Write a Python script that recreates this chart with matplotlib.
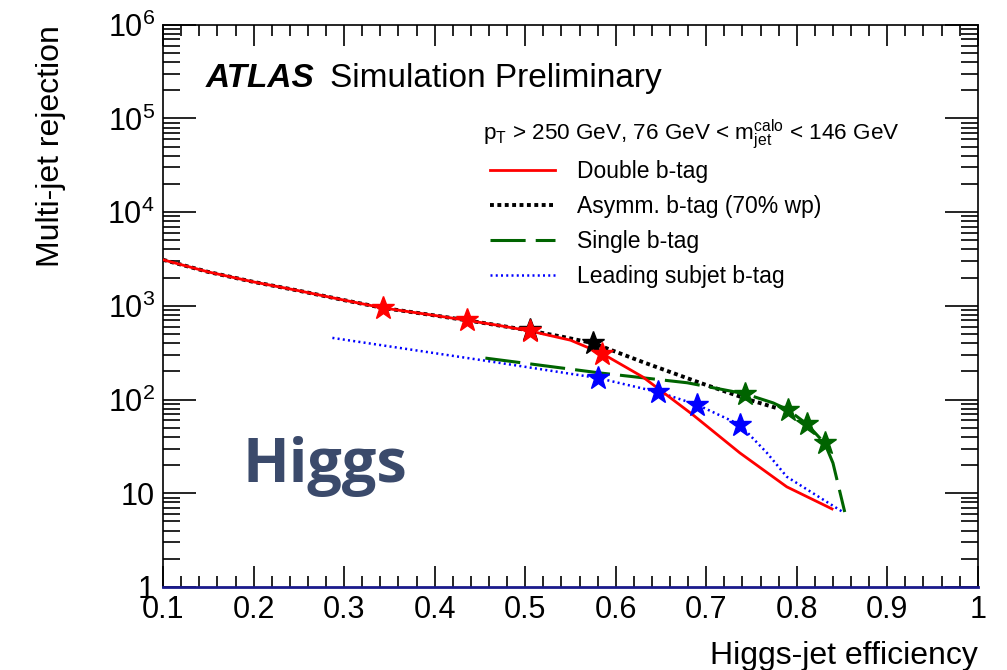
import matplotlib
matplotlib.use('Agg')
import matplotlib.pyplot as plt
from matplotlib.ticker import MultipleLocator, LogLocator, NullFormatter

plt.rcParams['font.family'] = ['Liberation Sans', 'DejaVu Sans']
plt.rcParams['mathtext.fontset'] = 'custom'
plt.rcParams['mathtext.rm'] = 'Liberation Sans'
plt.rcParams['mathtext.it'] = 'Liberation Sans:italic'

# values
double_eff = [0.10, 0.15, 0.20, 0.25, 0.30, 0.343, 0.40, 0.436, 0.47, 0.505, 0.55, 0.585,
              0.63, 0.685, 0.737, 0.789, 0.839]
double_rej = [3100, 2300, 1800, 1450, 1150, 950, 790, 700, 620, 540, 430, 310,
              174, 69, 27, 11.7, 6.8]
double_star_eff = [0.343, 0.436, 0.505, 0.585]
double_star_rej = [950, 700, 540, 310]

asymm_eff = [0.10, 0.15, 0.20, 0.25, 0.30, 0.343, 0.40, 0.436, 0.47, 0.505, 0.54, 0.575,
             0.63, 0.693, 0.748, 0.778]
asymm_rej = [3100, 2300, 1800, 1450, 1150, 950, 790, 700, 620, 545, 470, 400,
             251, 151, 99, 81]
asymm_star_eff = [0.505, 0.575]
asymm_star_rej = [550, 400]

single_eff = [0.456, 0.583, 0.679, 0.743, 0.774, 0.790, 0.811, 0.831, 0.840, 0.853]
single_rej = [277, 192, 151, 115, 92, 78, 55, 34, 21, 6.3]
single_star_eff = [0.743, 0.790, 0.811, 0.831]
single_star_rej = [115, 78, 55, 34]

lead_eff = [0.287, 0.458, 0.580, 0.647, 0.690, 0.737, 0.767, 0.789, 0.851]
lead_rej = [455, 258, 170, 120, 88, 54, 27, 15, 6.3]
lead_star_eff = [0.580, 0.647, 0.690, 0.737]
lead_star_rej = [170, 120, 88, 54]

x_ticks = [0.1, 0.2, 0.3, 0.4, 0.5, 0.6, 0.7, 0.8, 0.9, 1.0]
x_labels = ['0.1', '0.2', '0.3', '0.4', '0.5', '0.6', '0.7', '0.8', '0.9', '1']
y_ticks = [1, 10, 1e2, 1e3, 1e4, 1e5, 1e6]
y_labels = ['1', '10', r'10$^{2}$', r'10$^{3}$', r'10$^{4}$', r'10$^{5}$', r'10$^{6}$']

fig = plt.figure(figsize=(10.07, 6.70), dpi=100)
ax = fig.add_axes([0.162, 0.124, 0.809, 0.839])

ax.plot(double_eff, double_rej, color='red', lw=2.0, label='Double b-tag', zorder=4)
ax.plot(asymm_eff, asymm_rej, color='black', lw=2.8, dashes=(1.0, 0.9),
        label='Asymm. b-tag (70% wp)', zorder=3)
ax.plot(single_eff, single_rej, color='#006400', lw=2.2, dashes=(11.5, 3.3),
        label='Single b-tag', zorder=3)
ax.plot(lead_eff, lead_rej, color='blue', lw=1.8, dashes=(0.8, 1.3),
        label='Leading subjet b-tag', zorder=3)

ax.plot(asymm_star_eff, asymm_star_rej, ls='none', marker='*', ms=17, color='black', zorder=5)
ax.plot(double_star_eff, double_star_rej, ls='none', marker='*', ms=17, color='red', zorder=6)
ax.plot(single_star_eff, single_star_rej, ls='none', marker='*', ms=17, color='#006400', zorder=5)
ax.plot(lead_star_eff, lead_star_rej, ls='none', marker='*', ms=17, color='blue', zorder=5)

ax.set_yscale('log')
ax.set_xlim(0.1, 1.0)
ax.set_ylim(1, 1e6)

ax.set_xticks(x_ticks, x_labels)
ax.xaxis.set_minor_locator(MultipleLocator(0.02))
ax.set_yticks(y_ticks, y_labels)
ax.yaxis.set_minor_locator(LogLocator(base=10, subs=range(2, 10), numticks=20))
ax.yaxis.set_minor_formatter(NullFormatter())

ax.tick_params(which='both', direction='in', top=True, right=True, labelsize=22, width=1.2)
ax.tick_params(which='major', length=15, pad=6)
ax.tick_params(which='minor', length=8)
ax.tick_params(axis='y', which='major', length=24)
ax.tick_params(axis='y', which='minor', length=12)

for s in ax.spines.values():
    s.set_linewidth(1.2)
ax.spines['bottom'].set_color('#1a1a8c')
ax.spines['bottom'].set_linewidth(2.0)

ax.set_xlabel('Higgs-jet efficiency', fontsize=23, loc='right', labelpad=11)
ax.set_ylabel('Multi-jet rejection', fontsize=23, loc='top', labelpad=30)

ax.text(0.052, 0.905, 'ATLAS', transform=ax.transAxes, fontsize=24,
        fontweight='bold', fontstyle='italic', va='center')
ax.text(0.205, 0.905, 'Simulation Preliminary', transform=ax.transAxes,
        fontsize=24, va='center')

ax.text(0.393, 0.805, r'p$_{\mathrm{T}}$ > 250 GeV, 76 GeV < m$^{\mathrm{calo}}_{\mathrm{jet}}$ < 146 GeV',
        transform=ax.transAxes, fontsize=16.2, va='center')

leg = ax.legend(loc='upper left', bbox_to_anchor=(0.39, 0.775), frameon=False,
                fontsize=16.5, handlelength=2.85, handletextpad=0.95, labelspacing=0.52,
                borderaxespad=0)

ax.text(0.097, 0.215, 'Higgs', transform=ax.transAxes, fontsize=44,
        fontweight='bold', color='#3b4a6b', family=['Open Sans', 'DejaVu Sans'], va='center')

fig.savefig('out.png', dpi=100)
